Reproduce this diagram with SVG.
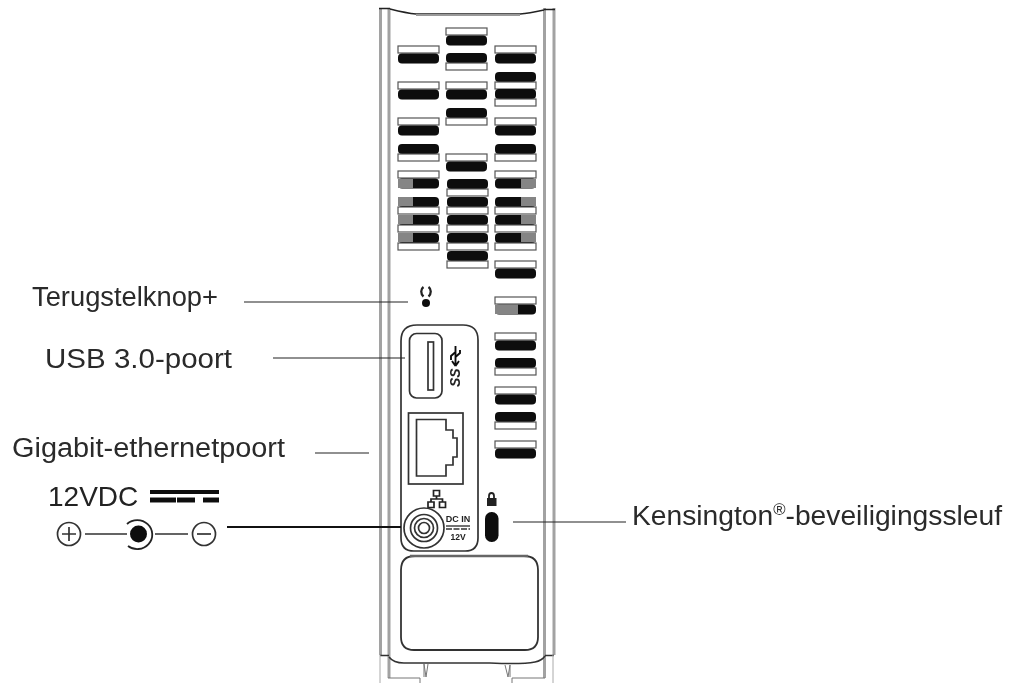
<svg xmlns="http://www.w3.org/2000/svg" width="1011" height="683" viewBox="0 0 1011 683">
<defs>
<filter id="soft" x="-5%" y="-5%" width="110%" height="110%"><feGaussianBlur stdDeviation="0.45"/></filter>
<style>
.t{font-family:"Liberation Sans",Arial,sans-serif;font-size:27px;fill:#2a2a2a}
.w{fill:#fff;stroke:#555;stroke-width:1.2}
.b{fill:#0a0a0a}
.g{fill:#858585}
.e{stroke:#a2a2a2;stroke-width:3;fill:none}
.l{stroke:#222;stroke-width:1.2;fill:none}
.k{stroke:#333;stroke-width:1.7;fill:none}
.s{font-family:"Liberation Sans",Arial,sans-serif;font-weight:700;fill:#222}
</style>
<g id="wb"><rect class="w" x="0" y="0" width="41" height="7"/><rect class="b" x="0" y="7.5" width="41" height="10" rx="4"/></g>
<g id="bw"><rect class="b" x="0" y="0" width="41" height="10" rx="4"/><rect class="w" x="0" y="10" width="41" height="7"/></g>
</defs>
<rect width="1011" height="683" fill="#fff"/>
<g filter="url(#soft)">
<g id="enclosure">
<path class="e" d="M380.5 8V655M389 8V678M544.5 8V678M554 8V655"/>
<path d="M379 8.500H390M390 9C402 12 410 13.500 416 14H520C528 13.500 535 12 544 10M544 9.500H555" stroke="#222" stroke-width="1.3" fill="none"/>
<path d="M416 15H520" stroke="#999" stroke-width="2" fill="none"/>
<path d="M380 655.500H389M545 655.500H554M389 657C392 661 396 663 404 663H490C510 664 525 664 535 662C540 661 543 659 545 656" stroke="#333" stroke-width="1.5" fill="none"/>
<path d="M380 655V683M553 655V683" stroke="#aaa" stroke-width="1" fill="none"/>
<path d="M424 664L426 677L428 664M505 665L508 677L510 665M424 664V677M510 665V677" stroke="#777" stroke-width="1" fill="none"/>
<path d="M388 678H420V683M512 683V678H545" stroke="#777" stroke-width="1" fill="none"/>
</g>
<g id="vents">
<use href="#wb" x="398" y="46"/><use href="#wb" x="446" y="28"/><use href="#bw" x="446" y="53"/><use href="#wb" x="495" y="46"/>
<use href="#bw" x="495" y="72"/><use href="#bw" x="495" y="89"/><use href="#wb" x="398" y="82"/><use href="#wb" x="446" y="82"/>
<use href="#bw" x="446" y="108"/><use href="#wb" x="398" y="118"/><use href="#wb" x="495" y="118"/>
<use href="#bw" x="398" y="144"/><use href="#bw" x="495" y="144"/><use href="#wb" x="446" y="154"/>
<use href="#bw" x="447" y="179"/><use href="#bw" x="447" y="197"/><use href="#bw" x="447" y="215"/><use href="#bw" x="447" y="233"/><use href="#bw" x="447" y="251"/>
<use href="#wb" x="398" y="171"/><use href="#bw" x="398" y="197"/><use href="#bw" x="398" y="215"/><use href="#bw" x="398" y="233"/>
<rect class="g" x="398" y="179" width="15" height="9"/><rect class="g" x="398" y="197" width="15" height="9"/><rect class="g" x="398" y="215" width="15" height="9"/><rect class="g" x="398" y="233" width="15" height="9"/>
<use href="#wb" x="495" y="171"/><use href="#bw" x="495" y="197"/><use href="#bw" x="495" y="215"/><use href="#bw" x="495" y="233"/>
<rect class="g" x="521" y="179" width="15" height="9"/><rect class="g" x="521" y="197" width="15" height="9"/><rect class="g" x="521" y="215" width="15" height="9"/><rect class="g" x="521" y="233" width="15" height="9"/>
<use href="#wb" x="495" y="261"/><use href="#wb" x="495" y="297"/><rect class="g" x="495" y="304.500" width="23" height="9.500"/>
<use href="#wb" x="495" y="333"/><use href="#bw" x="495" y="358"/><use href="#wb" x="495" y="387"/><use href="#bw" x="495" y="412"/><use href="#wb" x="495" y="441"/>
</g>
<g id="reset-button">
<path d="M423.500 287C420.500 289 420.500 294 423.500 296.500M428.500 287C431.500 289 431.500 294 428.500 296.500" stroke="#222" stroke-width="2.300" fill="none"/>
<circle cx="426" cy="303" r="4" fill="#0a0a0a"/>
</g>
<g id="port-panel">
<path d="M401 341Q401 325 417 325H463Q478 325 478 340V538Q478 551 465 551H414Q401 551 401 538Z" class="k"/>
</g>
<g id="usb-port">
<rect class="k" x="409.500" y="333.500" width="32.500" height="64.500" rx="7"/>
<rect class="k" x="428" y="342" width="5.500" height="48"/>
<text transform="translate(460 387) rotate(-90)" class="s" style="font-size:14px;font-style:italic">SS</text>
<path d="M455.500 346V366M455.500 366L452 361M455.500 366L459 361M455.500 352L451 356V360M455.500 357L460 353V350" stroke="#111" stroke-width="1.900" fill="none"/>
</g>
<g id="ethernet-port">
<rect class="k" x="408.500" y="413" width="54.500" height="71"/>
<path class="k" d="M416.500 419.500H446V430H453V438H457V457H453V465H446V476H416.500Z"/>
</g>
<g id="power-port">
<path d="M433.500 490.500H439.500V496H433.500ZM428 502H434V507.500H428ZM439.500 502H445.500V507.500H439.500ZM436.500 496V499M431 502V499H442.500V502" stroke="#222" stroke-width="1.700" fill="none"/>
<circle cx="424" cy="528" r="20" fill="#fff" stroke="#333" stroke-width="1.700"/><circle class="k" cx="424" cy="528" r="13.500"/><circle class="k" cx="424" cy="528" r="9.500"/><circle class="k" cx="424" cy="528" r="5.500"/>
<text x="458" y="522" text-anchor="middle" class="s" style="font-size:9px">DC IN</text>
<path d="M446 526H470" stroke="#222" stroke-width="1.300"/><path d="M446 529H470" stroke="#333" stroke-width="1.300" stroke-dasharray="6 1.500"/>
<text x="458" y="539.500" text-anchor="middle" class="s" style="font-size:8.500px">12V</text>
</g>
<g id="kensington-lock">
<path d="M489 498.500V496Q489 493 491.500 493Q494 493 494 496V498.500" stroke="#222" stroke-width="1.800" fill="none"/><rect x="487" y="498" width="9.500" height="8" fill="#222"/>
<rect x="485" y="512" width="13.500" height="30" rx="6.500" fill="#0a0a0a"/>
</g>
<g id="label-plate">
<path d="M401 570Q401 556 415 556H524Q538 556 538 570V637Q538 650 525 650H414Q401 650 401 637Z" fill="none" stroke="#333" stroke-width="1.800"/>
<path d="M410 556H528" stroke="#666" stroke-width="2.500"/>
</g>
<g id="power-legend">
<text x="48" y="506" style="font-family:'Liberation Sans',Arial,sans-serif;font-size:28px;fill:#222">12VDC</text>
<path d="M150 492H219" stroke="#111" stroke-width="4"/><path d="M150 500H176M177 500H195M203 500H219" stroke="#111" stroke-width="5"/>
<circle cx="69" cy="534" r="11.500" fill="none" stroke="#333" stroke-width="1.700"/><path d="M62 534H76M69 527V541" stroke="#333" stroke-width="1.700"/>
<circle cx="204" cy="534" r="11.500" fill="none" stroke="#333" stroke-width="1.700"/><path d="M197 534H211" stroke="#333" stroke-width="1.700"/>
<path d="M85 534H127M155 534H188" stroke="#333" stroke-width="1.500"/>
<circle cx="138.500" cy="534" r="8.500" fill="#0a0a0a"/>
<path d="M127 524A15 14.500 0 1 1 128 546" fill="none" stroke="#222" stroke-width="1.800"/>
</g>
</g>
<g id="connectors">
<path class="l" d="M244 302H408M273 358H405M315 453H369"/>
<path d="M227 527H401" stroke="#111" stroke-width="2" fill="none"/>
<path class="l" d="M513 522H626"/>
</g>
<g id="labels">
<text class="t" x="32" y="306" textLength="186" lengthAdjust="spacingAndGlyphs">Terugstelknop+</text>
<text class="t" x="45" y="368" textLength="187" lengthAdjust="spacingAndGlyphs">USB 3.0-poort</text>
<text class="t" x="12" y="457" textLength="273" lengthAdjust="spacingAndGlyphs">Gigabit-ethernetpoort</text>
<text class="t" x="632" y="525" textLength="370" lengthAdjust="spacingAndGlyphs">Kensington<tspan font-size="16" dy="-10">®</tspan><tspan dy="10">-beveiligingssleuf</tspan></text>
</g>
</svg>
